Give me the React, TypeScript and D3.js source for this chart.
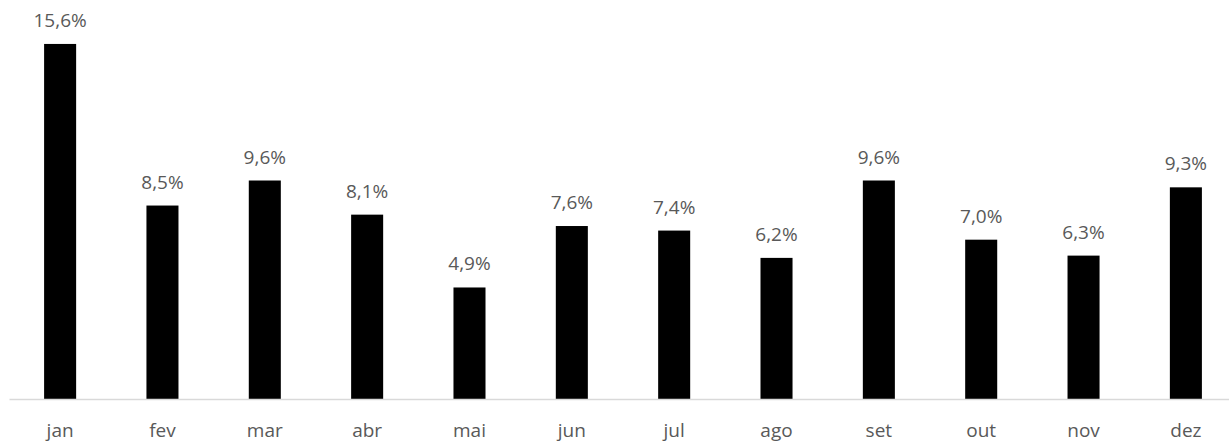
import React, { useEffect, useRef } from 'react';
import * as d3 from 'd3';

const months = ['jan', 'fev', 'mar', 'abr', 'mai', 'jun', 'jul', 'ago', 'set', 'out', 'nov', 'dez'];
const shares = [15.6, 8.5, 9.6, 8.1, 4.9, 7.6, 7.4, 6.2, 9.6, 7.0, 6.3, 9.3];

const width = 1229;
const height = 443;

export default function App() {
  const svgRef = useRef<SVGSVGElement>(null);

  useEffect(() => {
    if (!svgRef.current) return;
    const svg = d3.select(svgRef.current);
    svg.selectAll('*').remove();

    const baseline = 399;

    const x = d3.scaleBand<string>()
      .domain(months)
      .range([9, 1237])
      .paddingInner(0.687)
      .paddingOuter(0.343);

    const y = d3.scaleLinear()
      .domain([0, 16])
      .range([baseline, baseline - 16 * 22.76]);

    const data = months.map((m, i) => ({ m, v: shares[i] }));

    // bars
    svg.append('g')
      .selectAll('rect')
      .data(data)
      .join('rect')
      .attr('x', d => x(d.m)!)
      .attr('y', d => y(d.v))
      .attr('width', x.bandwidth())
      .attr('height', d => baseline - y(d.v))
      .attr('fill', '#000');

    // value labels
    svg.append('g')
      .selectAll('text')
      .data(data)
      .join('text')
      .attr('x', d => x(d.m)! + x.bandwidth() / 2)
      .attr('y', d => y(d.v) - 17)
      .attr('text-anchor', 'middle')
      .attr('font-family', '"Open Sans", sans-serif')
      .attr('font-size', 19)
      .attr('fill', '#595959')
      .text(d => d.v.toFixed(1).replace('.', ',') + '%');

    // x axis
    const axis = svg.append('g')
      .attr('transform', `translate(0,${baseline})`)
      .call(d3.axisBottom(x).tickSize(0).tickPadding(0));
    axis.select('.domain').attr('stroke', '#d9d9d9').attr('stroke-width', 1.5);
    axis.selectAll('.tick text')
      .attr('y', 38)
      .attr('dy', null)
      .attr('font-family', '"Open Sans", sans-serif')
      .attr('font-size', 19)
      .attr('fill', '#595959');
  }, []);

  return (
    <svg
      ref={svgRef}
      width={width}
      height={height}
      style={{ position: 'absolute', left: 0, top: 0, background: '#fff' }}
    />
  );
}
